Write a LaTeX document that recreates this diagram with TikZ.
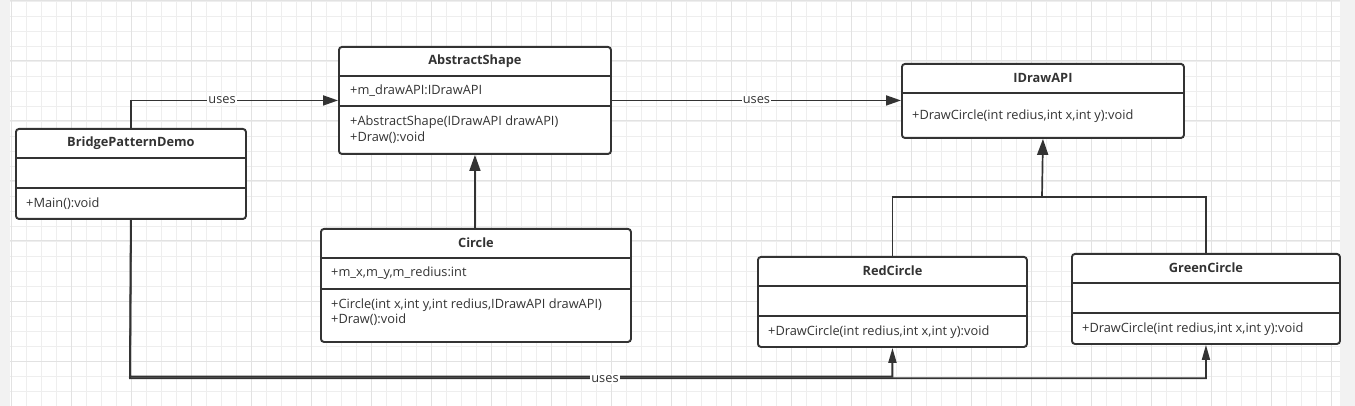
\documentclass[tikz,border=0pt]{standalone}
\usepackage{fontspec}
\setmainfont{Open Sans}
\usetikzlibrary{arrows.meta,calc}
\definecolor{ink}{HTML}{333333}
\definecolor{gridminor}{HTML}{EEEEEE}
\definecolor{gridmajor}{HTML}{E2E2E2}
\definecolor{side}{HTML}{F2F2F2}
\tikzset{
  cls/.style={draw=ink, line width=1.9pt, rounded corners=3pt, fill=white, inner sep=0pt, anchor=north west},
  sep/.style={draw=ink, line width=1.9pt},
  ttl/.style={font=\fontsize{12.8}{14}\selectfont\bfseries, text=ink, inner sep=0pt},
  mem/.style={font=\fontsize{12.8}{14}\selectfont, text=ink, inner sep=0pt, anchor=west, align=left},
  conn/.style={draw=ink, line width=1.7pt},
  usesarrow/.style={conn, -{Triangle[length=15pt,width=10pt]}},
  genarrow/.style={conn, -{Triangle[length=16pt,width=11pt]}},
  lowarrow/.style={conn, -{Triangle[length=15pt,width=8pt]}},
  lbl/.style={font=\fontsize{12.8}{14}\selectfont, text=ink, fill=white, inner sep=1pt},
  minorline/.style={draw=gridminor, line width=0.8pt},
  majorline/.style={draw=gridmajor, line width=1pt},
}
\begin{document}
\begin{tikzpicture}[x=1pt,y=-1pt]
\useasboundingbox (0,0) rectangle (1355,406);
\fill[white] (0,0) rectangle (1355,406);
% grid
\foreach \x in {11,26,...,1340} \draw[minorline] (\x,0) -- (\x,406);
\foreach \y in {1,16,...,406} \draw[minorline] (10,\y) -- (1340,\y);
\foreach \x in {11,71,...,1340} \draw[majorline] (\x,0) -- (\x,406);
\foreach \y in {1,61,...,406} \draw[majorline] (10,\y) -- (1340,\y);
\fill[side] (0,0) rectangle (10,406);
\fill[side] (1340,0) rectangle (1355,406);

% BridgePatternDemo
\node[cls, minimum width=230pt, minimum height=90pt] (bpd) at (15,128) {};
\draw[sep] ([yshift=-30pt]bpd.north west) -- ([yshift=-30pt]bpd.north east);
\draw[sep] ([yshift=-60pt]bpd.north west) -- ([yshift=-60pt]bpd.north east);
\node[ttl] (bpdt) at ([yshift=-15pt]bpd.north) {BridgePatternDemo};
\node[mem] (bpdm) at ([xshift=11pt,yshift=-76pt]bpd.north west) {+Main():void};

% AbstractShape
\node[cls, minimum width=272pt, minimum height=107pt] (ash) at (338,46) {};
\draw[sep] ([yshift=-30pt]ash.north west) -- ([yshift=-30pt]ash.north east);
\draw[sep] ([yshift=-60pt]ash.north west) -- ([yshift=-60pt]ash.north east);
\node[ttl] (asht) at ([yshift=-15pt]ash.north) {AbstractShape};
\node[mem] (asha) at ([xshift=12pt,yshift=-45pt]ash.north west) {+m\_drawAPI:IDrawAPI};
\node[mem] (ashm1) at ([xshift=12pt,yshift=-76pt]ash.north west) {+AbstractShape(IDrawAPI drawAPI)};
\node[mem] (ashm2) at ([xshift=12pt,yshift=-92pt]ash.north west) {+Draw():void};

% IDrawAPI
\node[cls, minimum width=282pt, minimum height=74pt] (idr) at (901,63) {};
\draw[sep] ([yshift=-30pt]idr.north west) -- ([yshift=-30pt]idr.north east);
\node[ttl] (idrt) at ([yshift=-15pt]idr.north) {IDrawAPI};
\node[mem] (idrm) at ([xshift=11pt,yshift=-53pt]idr.north west) {+DrawCircle(int redius,int x,int y):void};

% Circle
\node[cls, minimum width=310pt, minimum height=113pt] (cir) at (320,228) {};
\draw[sep] ([yshift=-30pt]cir.north west) -- ([yshift=-30pt]cir.north east);
\draw[sep] ([yshift=-61pt]cir.north west) -- ([yshift=-61pt]cir.north east);
\node[ttl] (cirt) at ([yshift=-15pt]cir.north) {Circle};
\node[mem] (cira) at ([xshift=11pt,yshift=-45pt]cir.north west) {+m\_x,m\_y,m\_redius:int};
\node[mem] (cirm1) at ([xshift=11pt,yshift=-77pt]cir.north west) {+Circle(int x,int y,int redius,IDrawAPI drawAPI)};
\node[mem] (cirm2) at ([xshift=11pt,yshift=-92pt]cir.north west) {+Draw():void};

% RedCircle
\node[cls, minimum width=269pt, minimum height=90pt] (red) at (757,256) {};
\draw[sep] ([yshift=-30pt]red.north west) -- ([yshift=-30pt]red.north east);
\draw[sep] ([yshift=-60pt]red.north west) -- ([yshift=-60pt]red.north east);
\node[ttl] (redt) at ([yshift=-15pt]red.north) {RedCircle};
\node[mem] (redm) at ([xshift=11pt,yshift=-76pt]red.north west) {+DrawCircle(int redius,int x,int y):void};

% GreenCircle
\node[cls, minimum width=268pt, minimum height=90pt] (grn) at (1071,253) {};
\draw[sep] ([yshift=-30pt]grn.north west) -- ([yshift=-30pt]grn.north east);
\draw[sep] ([yshift=-60pt]grn.north west) -- ([yshift=-60pt]grn.north east);
\node[ttl] (grnt) at ([yshift=-15pt]grn.north) {GreenCircle};
\node[mem] (grnm) at ([xshift=11pt,yshift=-76pt]grn.north west) {+DrawCircle(int redius,int x,int y):void};

% connectors
\draw[usesarrow] (bpd.north) |- node[pos=0.72, lbl] {uses} (ash.west);
\draw[usesarrow] (ash.east) -- node[pos=0.5, lbl] {uses} (idr.west |- ash.east);
\draw[genarrow] (cir.north -| ash.south) -- (ash.south);
\coordinate (jn) at (1042,197);
\draw[conn] (red.north) |- (jn);
\draw[conn] (grn.north) |- (jn);
\draw[genarrow] (jn) -- (idr.south);
\coordinate (lowg) at (130,378.2);
\coordinate (lowr) at (130,376.6);
\draw[lowarrow, line width=1.6pt] (bpd.south) -- (lowg) -| (grn.south);
\draw[lowarrow, line width=2pt] (bpd.south) -- (lowr) -| (red.south);
\node[lbl] (lowlbl) at (605,379) {uses};
\end{tikzpicture}
\end{document}
